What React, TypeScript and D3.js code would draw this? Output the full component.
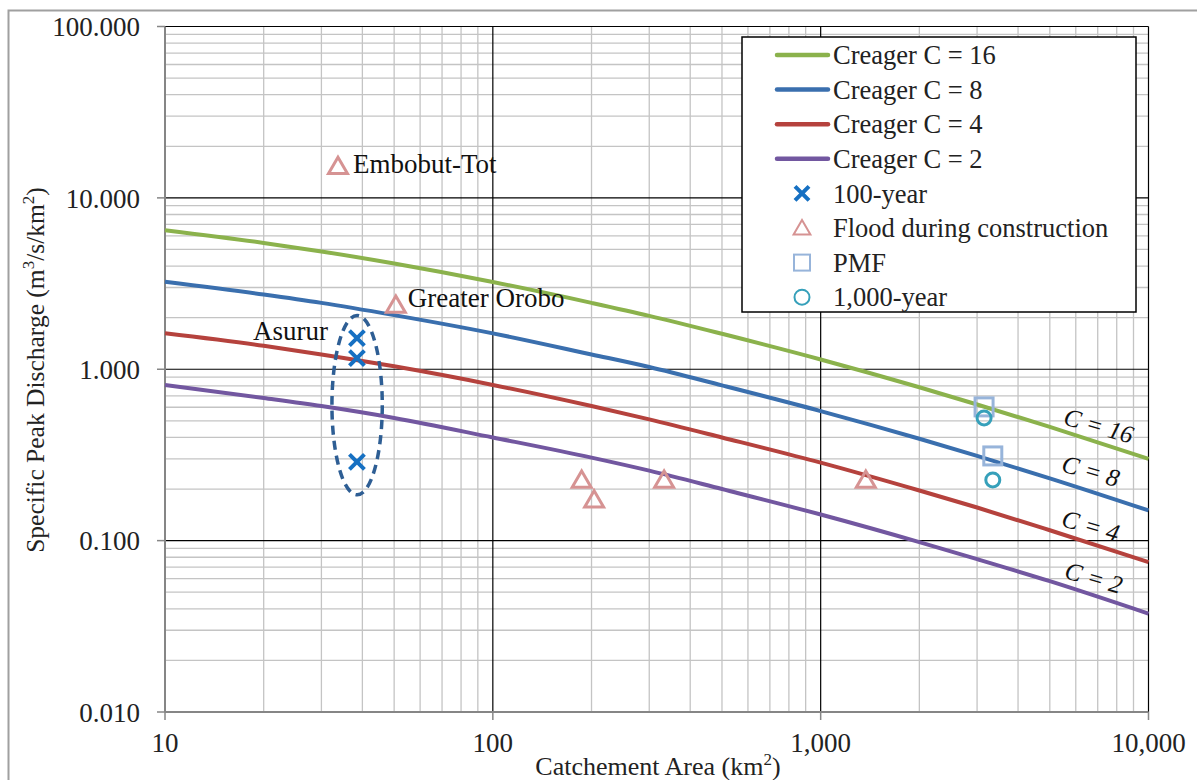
import React from "react";
import * as d3 from "d3";

// ---- Data ----
const areas = [10, 20, 30, 50, 100, 200, 300, 500, 1000, 2000, 3000, 5000, 10000];
const creagerC16 = [6.47, 5.46, 4.87, 4.14, 3.23, 2.44, 2.05, 1.61, 1.14, 0.785, 0.623, 0.461, 0.3];
const creagerC8 = [3.24, 2.73, 2.44, 2.07, 1.62, 1.22, 1.03, 0.805, 0.57, 0.393, 0.312, 0.231, 0.15];
const creagerC4 = [1.62, 1.37, 1.22, 1.04, 0.81, 0.61, 0.51, 0.4, 0.285, 0.196, 0.156, 0.115, 0.075];
const creagerC2 = [0.81, 0.68, 0.61, 0.52, 0.4, 0.305, 0.256, 0.2, 0.142, 0.098, 0.078, 0.058, 0.0375];

const hundredYearA = [38.5, 38.5, 38.5];
const hundredYearQ = [1.52, 1.16, 0.288];

const floodA = [33.7, 50.6, 186.6, 203.7, 333, 1373];
const floodQ = [15.3, 2.37, 0.226, 0.173, 0.226, 0.226];

const pmfA = [3151, 3350];
const pmfQ = [0.603, 0.312];

const thousandA = [3151, 3350];
const thousandQ = [0.52, 0.226];

const ellipseA = [32.3, 46.0];
const ellipseQ = [0.185, 2.06];

const xTicks = [10, 100, 1000, 10000];
const yTicks = [0.01, 0.1, 1, 10, 100];

const seriesNames = [
  "Creager C = 16",
  "Creager C = 8",
  "Creager C = 4",
  "Creager C = 2",
  "100-year",
  "Flood during construction",
  "PMF",
  "1,000-year",
];

const curveLabels = ["C = 16", "C = 8", "C = 4", "C = 2"];
const curveLabelAt = [
  [7020, 0.455],
  [6640, 0.248],
  [6640, 0.1186],
  [6780, 0.059],
];

const pointLabels = ["Embobut-Tot", "Greater Orobo", "Asurur"];

// ---- Styles ----
const W = 1197;
const H = 780;
const M = { left: 165, right: 1148.5, top: 26.5, bottom: 712 };
const FONT = "'Liberation Serif', 'DejaVu Serif', serif";
const curveColors = ["#8BB24C", "#3A6FAE", "#B5423D", "#7257A0"];
const xColor = "#1670C2";
const triColor = "#D69393";
const sqColor = "#97B4DA";
const circColor = "#36A0BA";

export default function App() {
  const x = d3.scaleLog().domain([10, 10000]).range([M.left, M.right]);
  const y = d3.scaleLog().domain([0.01, 100]).range([M.bottom, M.top]);

  const minorX: number[] = [];
  for (let d = 10; d < 10000; d *= 10) for (let k = 2; k <= 9; k++) minorX.push(d * k);
  const minorY: number[] = [];
  for (let d = 0.01; d < 99; d *= 10) for (let k = 2; k <= 9; k++) minorY.push(+(d * k).toPrecision(3));

  const line = d3
    .line<[number, number]>()
    .x((d) => x(d[0]))
    .y((d) => y(d[1]))
    .curve(d3.curveMonotoneX);

  const curves = [creagerC16, creagerC8, creagerC4, creagerC2];

  const fmtY = d3.format(",.3f");
  const fmtX = d3.format(",");

  const cross = (cx: number, cy: number, s: number, sw: number, key: string) => (
    <path
      key={key}
      d={`M${cx - s},${cy - s}L${cx + s},${cy + s}M${cx - s},${cy + s}L${cx + s},${cy - s}`}
      stroke={xColor}
      strokeWidth={sw}
      fill="none"
    />
  );
  const tri = (cx: number, cy: number, s: number, sw: number, key: string) => (
    <path
      key={key}
      d={`M${cx},${cy - s}L${cx + s * 1.05},${cy + s * 0.8}L${cx - s * 1.05},${cy + s * 0.8}Z`}
      stroke={triColor}
      strokeWidth={sw}
      fill="none"
      strokeLinejoin="miter"
    />
  );

  const ex1 = x(ellipseA[0]);
  const ex2 = x(ellipseA[1]);
  const ey1 = y(ellipseQ[1]);
  const ey2 = y(ellipseQ[0]);

  const legX = 742;
  const legY = 37;
  const legRow = 34.6;

  return (
    <svg
      width={W}
      height={H}
      style={{ position: "absolute", left: 0, top: 0, background: "#fff", fontFamily: FONT }}
    >
      <rect x={0} y={0} width={W} height={H} fill="#fff" />
      {/* outer chart border */}
      <path d={`M8.5,${H + 5}V10.5H${W + 5}`} stroke="#A0A0A0" strokeWidth={2} fill="none" />

      {/* minor grid */}
      {minorX.map((v) => (
        <line key={"mx" + v} x1={x(v)} x2={x(v)} y1={M.top} y2={M.bottom} stroke="#C4C4C4" strokeWidth={1.3} />
      ))}
      {minorY.map((v) => (
        <line key={"my" + v} x1={M.left} x2={M.right} y1={y(v)} y2={y(v)} stroke="#C4C4C4" strokeWidth={1.3} />
      ))}
      {/* major grid */}
      {xTicks.slice(1).map((v) => (
        <line key={"Mx" + v} x1={x(v)} x2={x(v)} y1={M.top} y2={M.bottom} stroke="#000" strokeWidth={1.2} />
      ))}
      {yTicks.slice(1).map((v) => (
        <line key={"My" + v} x1={M.left} x2={M.right} y1={y(v)} y2={y(v)} stroke="#000" strokeWidth={1.2} />
      ))}
      {/* axes */}
      <line x1={M.left} x2={M.left} y1={M.top} y2={M.bottom} stroke="#868686" strokeWidth={2} />
      <line x1={M.left} x2={M.right} y1={M.bottom} y2={M.bottom} stroke="#868686" strokeWidth={2} />
      {yTicks.map((v) => (
        <line key={"ty" + v} x1={M.left - 8} x2={M.left} y1={y(v)} y2={y(v)} stroke="#868686" strokeWidth={1.5} />
      ))}
      {xTicks.map((v) => (
        <line key={"tx" + v} x1={x(v)} x2={x(v)} y1={M.bottom} y2={M.bottom + 8} stroke="#868686" strokeWidth={1.5} />
      ))}

      {/* tick labels */}
      {yTicks.map((v) => (
        <text key={"ly" + v} x={140} y={y(v)} dy="0.36em" textAnchor="end" fontSize={27} fill="#222">
          {fmtY(v)}
        </text>
      ))}
      {xTicks.map((v) => (
        <text key={"lx" + v} x={x(v)} y={752} textAnchor="middle" fontSize={27} fill="#222">
          {fmtX(v)}
        </text>
      ))}

      {/* axis titles */}
      <text x={658} y={775} textAnchor="middle" fontSize={26} fill="#222">
        Catchement Area (km
        <tspan fontSize={17} dy={-10}>2</tspan>
        <tspan dy={10}>)</tspan>
      </text>
      <text transform={`translate(44,370) rotate(-90)`} textAnchor="middle" fontSize={25.5} fill="#222">
        Specific Peak Discharge (m
        <tspan fontSize={17} dy={-10}>3</tspan>
        <tspan dy={10}>/s/km</tspan>
        <tspan fontSize={17} dy={-10}>2</tspan>
        <tspan dy={10}>)</tspan>
      </text>

      {/* Creager curves */}
      {curves.map((vals, i) => (
        <path
          key={"c" + i}
          d={line(areas.map((a, j) => [a, vals[j]] as [number, number])) || ""}
          stroke={curveColors[i]}
          strokeWidth={4}
          fill="none"
        />
      ))}

      {/* curve labels */}
      {curveLabels.map((t, i) => (
        <text
          key={"cl" + i}
          transform={`translate(${x(curveLabelAt[i][0])},${y(curveLabelAt[i][1])}) rotate(16)`}
          textAnchor="middle"
          dy="0.25em"
          fontSize={25}
          fontStyle="italic"
          fill="#111"
        >
          {t}
        </text>
      ))}

      {/* dashed ellipse */}
      <ellipse
        cx={(ex1 + ex2) / 2}
        cy={(ey1 + ey2) / 2}
        rx={(ex2 - ex1) / 2}
        ry={(ey2 - ey1) / 2}
        fill="none"
        stroke="#2E5E94"
        strokeWidth={3.5}
        strokeDasharray="9 6"
      />

      {/* markers */}
      {hundredYearA.map((a, i) => cross(x(a), y(hundredYearQ[i]), 7.5, 4, "h" + i))}
      {floodA.map((a, i) => tri(x(a), y(floodQ[i]), 9, 3, "f" + i))}
      {pmfA.map((a, i) => (
        <rect
          key={"p" + i}
          x={x(a) - 9}
          y={y(pmfQ[i]) - 9}
          width={18}
          height={18}
          fill="none"
          stroke={sqColor}
          strokeWidth={3}
        />
      ))}
      {thousandA.map((a, i) => (
        <circle key={"t" + i} cx={x(a)} cy={y(thousandQ[i])} r={7} fill="none" stroke={circColor} strokeWidth={3} />
      ))}

      {/* point labels */}
      <text x={x(floodA[0]) + 15} y={y(floodQ[0]) + 7} fontSize={27} fill="#111">
        {pointLabels[0]}
      </text>
      <text x={x(floodA[1]) + 12} y={y(floodQ[1]) + 2} fontSize={27} fill="#111">
        {pointLabels[1]}
      </text>
      <text x={x(hundredYearA[0]) - 29} y={y(hundredYearQ[0]) + 2} textAnchor="end" fontSize={27} fill="#111">
        {pointLabels[2]}
      </text>

      {/* legend */}
      <rect x={legX} y={legY} width={394} height={275} fill="#fff" stroke="#000" strokeWidth={1.5} />
      {seriesNames.map((name, i) => {
        const cy = legY + 18 + i * legRow;
        let sym: React.ReactNode = null;
        if (i < 4) {
          sym = (
            <line x1={777} x2={828} y1={cy} y2={cy} stroke={curveColors[i]} strokeWidth={4.5} strokeLinecap="round" />
          );
        } else if (i === 4) {
          sym = cross(802, cy, 7, 4, "lg" + i);
        } else if (i === 5) {
          sym = tri(802, cy, 8, 2, "lg" + i);
        } else if (i === 6) {
          sym = <rect x={794} y={cy - 8} width={16} height={16} fill="none" stroke={sqColor} strokeWidth={2} />;
        } else {
          sym = <circle cx={802} cy={cy} r={7.5} fill="none" stroke={circColor} strokeWidth={2} />;
        }
        return (
          <g key={"lg" + i}>
            {sym}
            <text x={833} y={cy} dy="0.35em" fontSize={26.5} fill="#222">
              {name}
            </text>
          </g>
        );
      })}
    </svg>
  );
}
